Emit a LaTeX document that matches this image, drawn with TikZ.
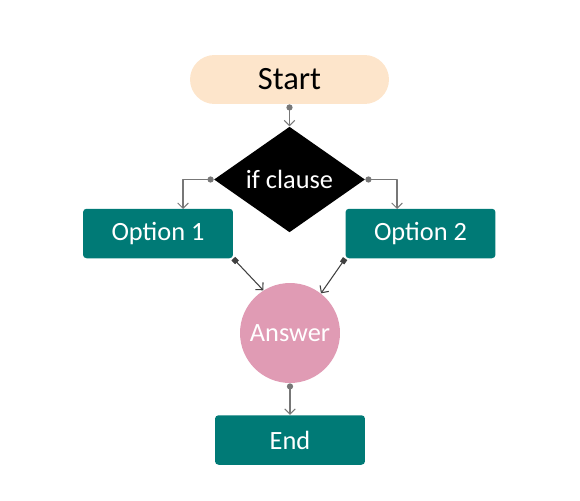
\documentclass[tikz,border=0pt]{standalone}
\usepackage{fontspec}
\setmainfont{Carlito}
\usetikzlibrary{arrows.meta,shapes.geometric}
\definecolor{peach}{HTML}{FDE5CB}
\definecolor{teal}{HTML}{007A76}
\definecolor{rosa}{HTML}{E09BB4}
\definecolor{lnkgray}{HTML}{777777}
\begin{document}
\begin{tikzpicture}[x=0.02cm, y=-0.02cm, >={Straight Barb[length=3pt,width=6pt]}, line join=round]
	%% Khung
	\useasboundingbox (0,0) rectangle (580,500);
	\tikzset{
		startbox/.style={fill=peach, rounded corners=0.49cm, minimum width=3.98cm, minimum height=0.98cm, font=\fontsize{18.5}{22}\selectfont},
		optbox/.style={fill=teal, text=white, rounded corners=2pt, minimum width=3cm, minimum height=0.99cm, font=\fontsize{15}{18}\selectfont},
		lnk/.style={draw=lnkgray, line width=0.6pt}
	}
	%% Các nút
	\node[startbox] (start) at (289.5,79.5) {Start};
	\node[diamond, fill=black, text=white, inner sep=0pt, minimum width=3.02cm, minimum height=2.06cm, font=\fontsize{15}{18}\selectfont] (ifc) at (289.5,179.5) {if clause};
	\node[optbox] (opt1) at (158,233.5) {Option 1};
	\node[optbox] (opt2) at (420.5,233.5) {Option 2};
	\node[circle, fill=rosa, text=white, minimum size=2cm, inner sep=0pt, font=\fontsize{15}{18}\selectfont] (ans) at (290,333) {Answer};
	\node[optbox] (end) at (290,440) {End};
	%% Điểm vào
	\coordinate (in1) at (183,209);
	\coordinate (in2) at (397,209);
	%% Các mũi tên
	\draw[lnk, {Circle[length=3.5pt]}->] (start.south) -- (ifc.north);
	\draw[lnk, {Circle[length=3.5pt]}->] (ifc.west) -| (in1);
	\draw[lnk, {Circle[length=3.5pt]}->] (ifc.east) -| (in2);
	\draw[lnk, draw=black!75, {Square[length=3pt]}->] (opt1.south east) -- (ans.122);
	\draw[lnk, draw=black!75, {Square[length=3pt]}->] (opt2.south west) -- (ans.52);
	\draw[lnk, {Circle[length=3.5pt]}->] (ans.south) -- (end.north);
\end{tikzpicture}
\end{document}
